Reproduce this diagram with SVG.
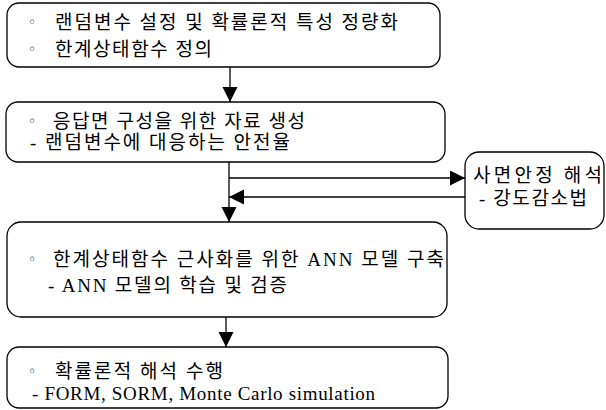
<svg xmlns="http://www.w3.org/2000/svg" width="606" height="410" viewBox="0 0 606 410">
<defs>
<marker id="ah" markerUnits="userSpaceOnUse" markerWidth="16" markerHeight="16" refX="15" refY="7.5" orient="auto">
<path d="M0,0 L15,7.5 L0,15 Z" fill="#000"/>
</marker>
</defs>
<style>
.box{fill:#fff;stroke:#000;stroke-width:1.3}
.t{font-family:"Liberation Serif","Noto Sans CJK KR",serif;font-size:19px;fill:#000}
.b{font-family:"DejaVu Sans",sans-serif;font-size:14px;fill:#000}
.c{fill:none;stroke:#000;stroke-width:1.3}
</style>
<rect width="606" height="410" fill="#fff"/>
<g id="connectors">
<line class="c" x1="230" y1="67" x2="230" y2="102" marker-end="url(#ah)"/>
<line class="c" x1="229" y1="162" x2="229" y2="222" marker-end="url(#ah)"/>
<line class="c" x1="229" y1="178" x2="465" y2="178" marker-end="url(#ah)"/>
<line class="c" x1="465" y1="197" x2="229" y2="197" marker-end="url(#ah)"/>
<line class="c" x1="226" y1="317" x2="226" y2="347" marker-end="url(#ah)"/>
</g>
<g id="n1">
<rect class="box" x="7" y="3" width="433" height="64" rx="12"/>
<text class="b" x="28" y="27">◦</text>
<text class="t" x="55" y="29" textLength="343" lengthAdjust="spacing">랜덤변수 설정 및 확률론적 특성 정량화</text>
<text class="b" x="28" y="54">◦</text>
<text class="t" x="55" y="56" textLength="157" lengthAdjust="spacing">한계상태함수 정의</text>
</g>
<g id="n2">
<rect class="box" x="6" y="102" width="439" height="60" rx="12"/>
<text class="b" x="28" y="126">◦</text>
<text class="t" x="53" y="128" textLength="252" lengthAdjust="spacing">응답면 구성을 위한 자료 생성</text>
<text class="t" x="30" y="149" textLength="260" lengthAdjust="spacing">- 랜덤변수에 대응하는 안전율</text>
</g>
<g id="n3">
<rect class="box" x="7" y="222" width="440" height="95" rx="14"/>
<text class="b" x="28" y="264">◦</text>
<text class="t" x="53" y="266" textLength="391" lengthAdjust="spacing">한계상태함수 근사화를 위한 ANN 모델 구축</text>
<text class="t" x="48" y="292" textLength="239" lengthAdjust="spacing">- ANN 모델의 학습 및 검증</text>
</g>
<g id="n4">
<rect class="box" x="7" y="347" width="441" height="61" rx="12"/>
<text class="b" x="28" y="376">◦</text>
<text class="t" x="55" y="378" textLength="168" lengthAdjust="spacing">확률론적 해석 수행</text>
<text class="t" x="32" y="400" textLength="343" lengthAdjust="spacing">- FORM, SORM, Monte Carlo simulation</text>
</g>
<g id="n5">
<rect class="box" x="465" y="152" width="139" height="77" rx="14"/>
<text class="t" x="473" y="182" textLength="129" lengthAdjust="spacing">사면안정 해석</text>
<text class="t" x="479" y="205" textLength="108" lengthAdjust="spacing">- 강도감소법</text>
</g>
</svg>
